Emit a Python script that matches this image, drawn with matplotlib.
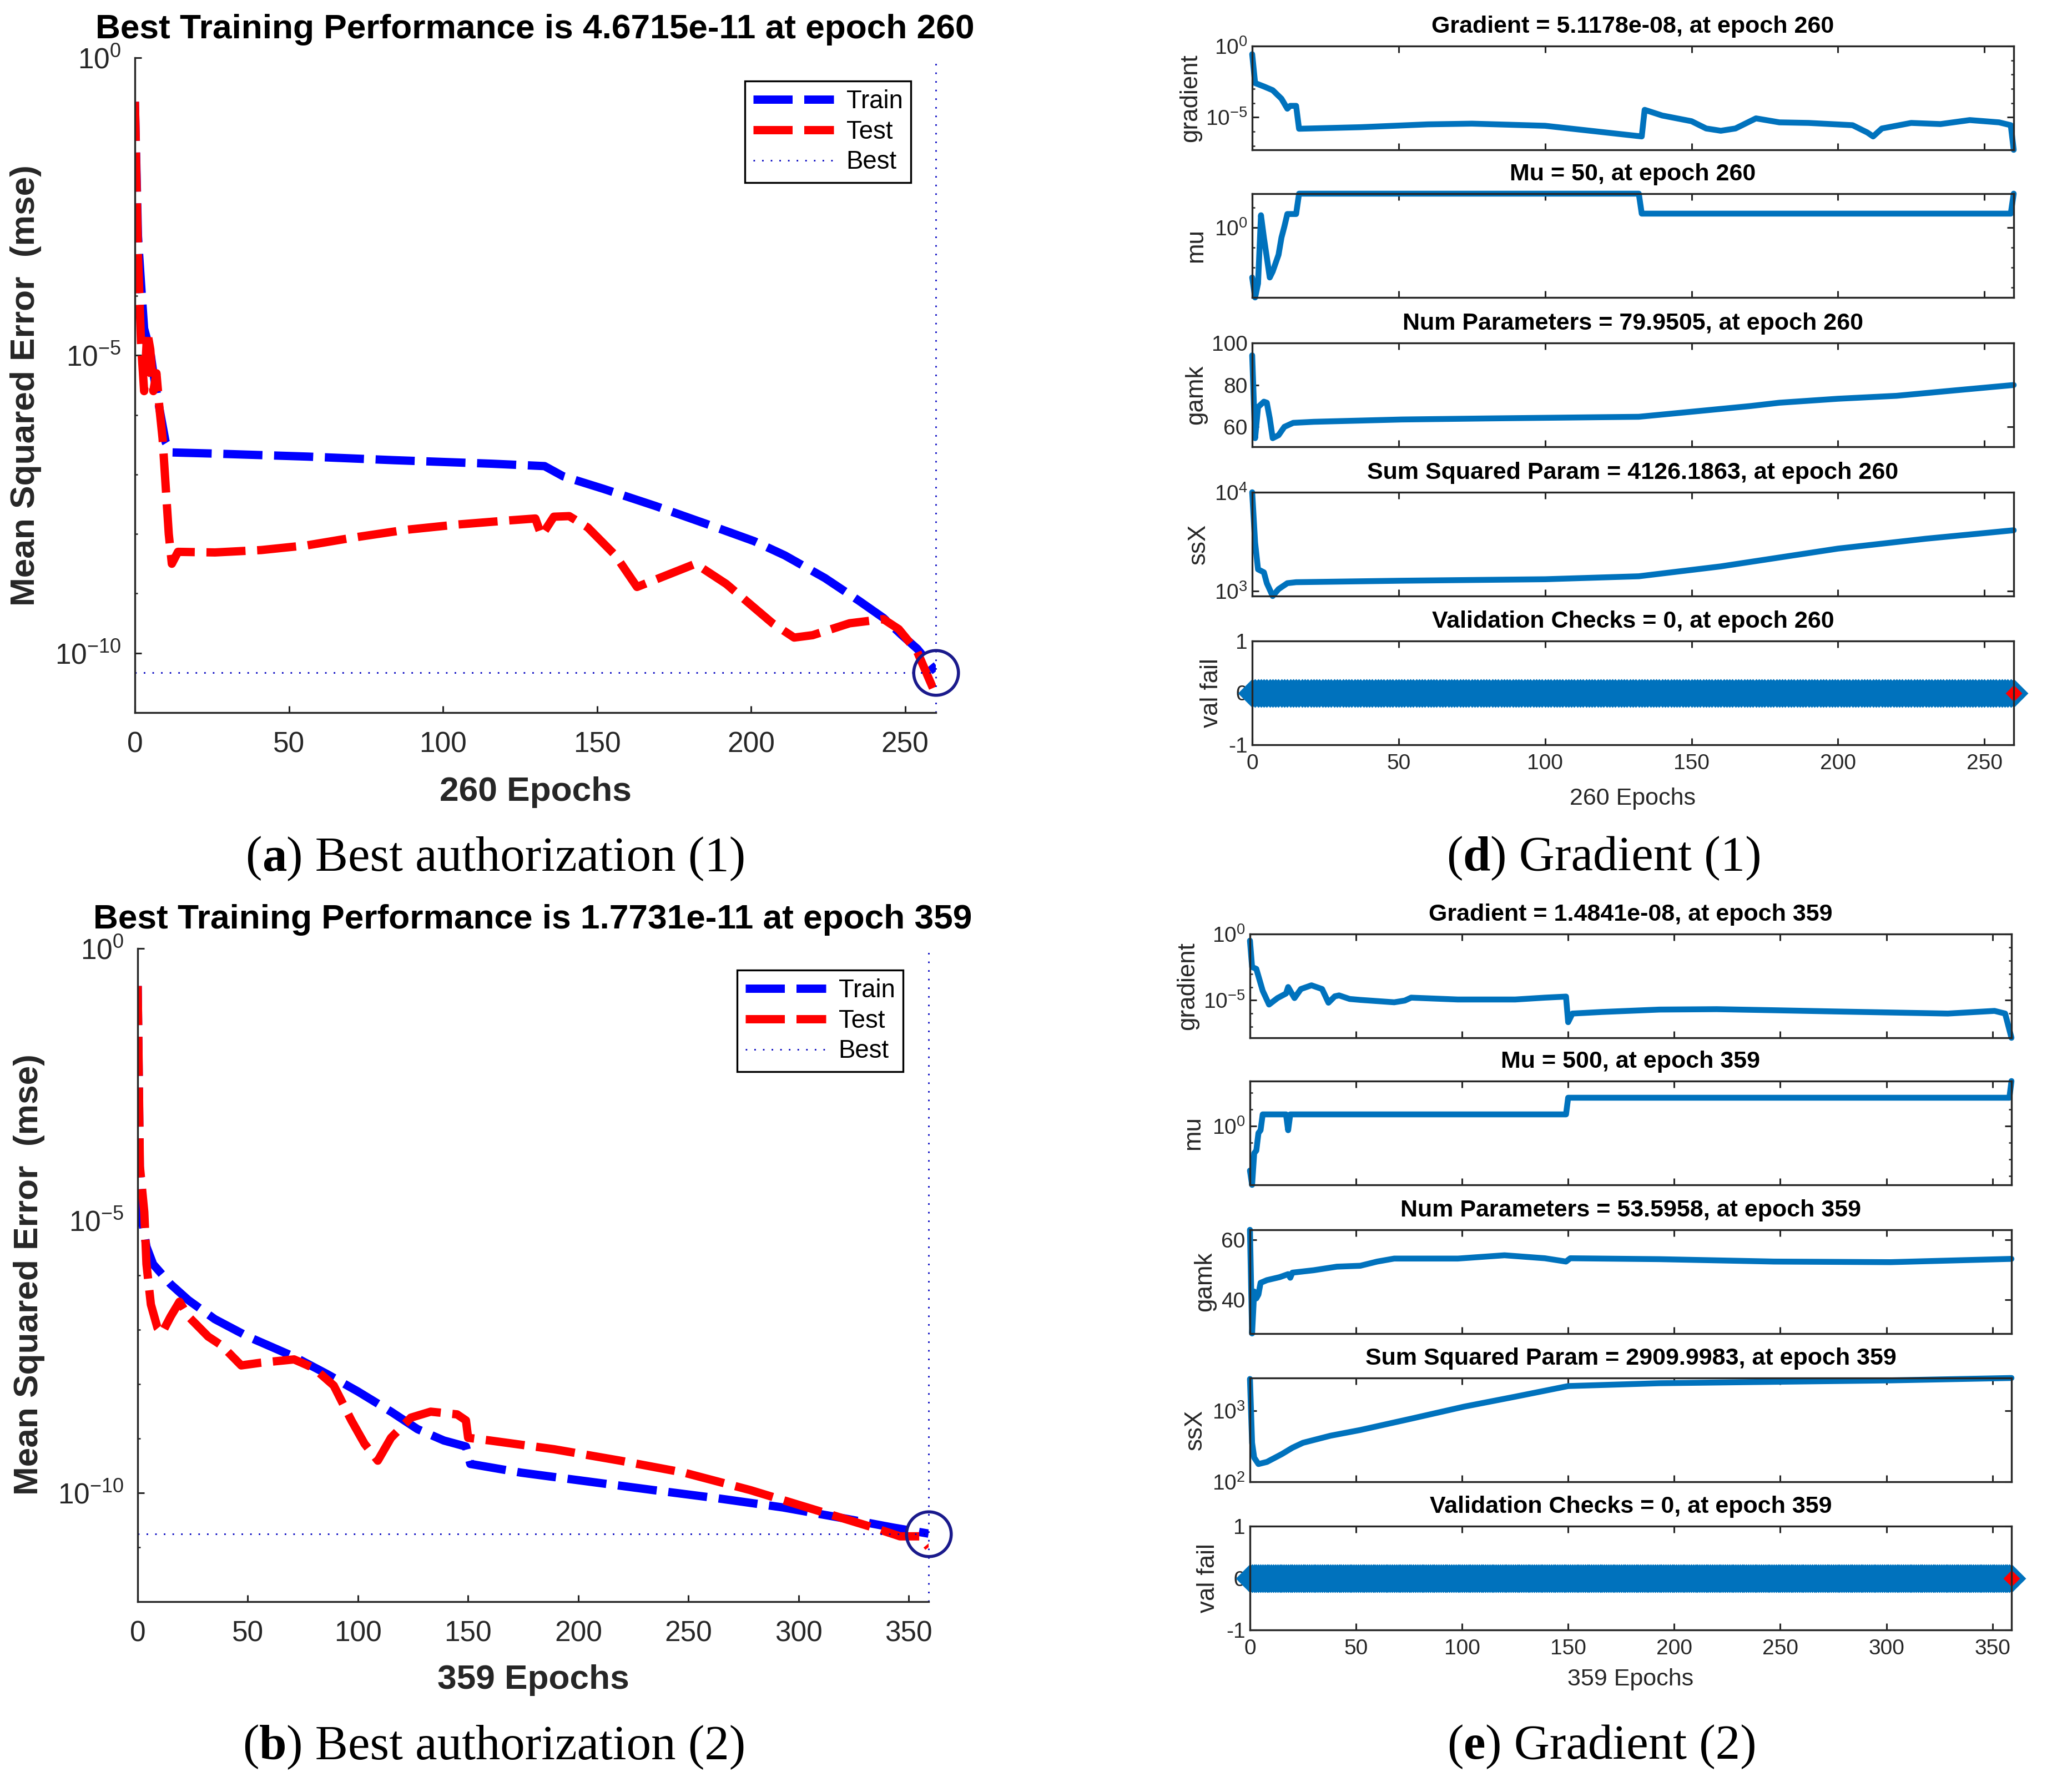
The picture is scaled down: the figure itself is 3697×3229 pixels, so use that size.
import matplotlib.pyplot as plt
import numpy as np
from matplotlib.ticker import NullFormatter

# ---------------------------------------------------------------------------
# values (log10 of the y value where the axis is log)
# ---------------------------------------------------------------------------
# (a) performance, run 1
train_a_epochs = [0, 1, 2, 3, 5, 6, 8, 10, 12, 26, 56, 84, 116, 133, 139, 152,
                  169, 186, 201, 211, 224, 235, 243, 249, 254, 260]
train_a_log = [-0.74, -3.0, -3.8, -4.55, -4.93, -5.3, -5.9, -6.46, -6.63, -6.65,
               -6.7, -6.76, -6.82, -6.86, -7.03, -7.24, -7.53, -7.84, -8.12,
               -8.36, -8.74, -9.12, -9.41, -9.7, -9.93, -10.31]
test_a_epochs = [0, 1, 2, 3, 4, 5, 6, 7, 8, 9, 10, 11, 12, 14, 26, 41, 56, 71, 88,
                 105, 122, 130, 132, 136, 141, 147, 156, 163, 182, 192, 207, 214,
                 220, 232, 243, 248, 254, 260]
test_a_log = [-0.74, -3.3, -4.8, -5.6, -4.6, -4.9, -5.6, -5.3, -5.9, -6.4, -7.2,
              -8.0, -8.5, -8.3, -8.31, -8.27, -8.19, -8.06, -7.93, -7.84, -7.77,
              -7.74, -8.03, -7.71, -7.70, -7.89, -8.36, -8.89, -8.5, -8.84, -9.5,
              -9.74, -9.7, -9.5, -9.43, -9.6, -9.98, -10.7]
best_a = 4.6715e-11

# (b) performance, run 2
train_b_epochs = [0, 1, 2, 4, 7, 15, 23, 35, 50, 71, 86, 100, 115, 127, 139, 149,
                  151, 174, 204, 234, 263, 293, 322, 343, 359]
train_b_log = [-0.69, -4.2, -5.0, -5.48, -5.8, -6.17, -6.46, -6.81, -7.13, -7.5,
               -7.82, -8.14, -8.51, -8.83, -9.04, -9.15, -9.47, -9.63, -9.79,
               -9.95, -10.1, -10.27, -10.48, -10.64, -10.75]
test_b_epochs = [0, 1, 3, 4, 6, 9, 11, 15, 19, 23, 32, 38, 47, 56, 71, 80, 89, 97,
                 103, 109, 115, 124, 133, 145, 149, 150, 160, 189, 219, 248, 278,
                 308, 334, 346, 355, 359]
test_b_log = [-0.69, -4.0, -4.84, -5.8, -6.54, -6.97, -7.07, -6.76, -6.49, -6.76,
              -7.13, -7.29, -7.66, -7.61, -7.55, -7.71, -8.03, -8.67, -9.1, -9.41,
              -8.99, -8.62, -8.51, -8.56, -8.67, -8.99, -9.04, -9.2, -9.41, -9.63,
              -9.95, -10.32, -10.64, -10.8, -10.8, -11.0]
best_b = 1.7731e-11

# (d) training state, run 1
grad_d_epochs = [0, 1, 4, 7, 10, 12, 13, 15, 16, 37, 60, 75, 100, 133, 134, 140,
                 150, 155, 160, 165, 172, 180, 190, 205, 210, 212, 215, 225, 235,
                 245, 255, 259, 260]
grad_d_log = [-0.57, -2.6, -2.84, -3.1, -3.7, -4.4, -4.2, -4.2, -5.81, -5.7, -5.5,
              -5.45, -5.6, -6.35, -4.48, -4.88, -5.28, -5.79, -5.95, -5.79, -5.08,
              -5.36, -5.4, -5.56, -6.07, -6.35, -5.79, -5.4, -5.48, -5.2, -5.36,
              -5.56, -7.29]
mu_d_epochs = [0, 1, 2, 3, 4, 5, 6, 7, 9, 10, 11, 12, 15, 16, 132, 133, 259, 260]
mu_d_log = [-2.5, -3.5, -2.8, 0.62, -0.5, -1.5, -2.5, -2.2, -1.36, -0.5, 0.06,
            0.68, 0.68, 1.7, 1.7, 0.7, 0.7, 1.7]
gamk_d_epochs = [0, 1, 2, 4, 5, 6, 7, 9, 11, 14, 21, 51, 80, 132, 150, 170, 180,
                 200, 220, 240, 260]
gamk_d = [94.1, 54.6, 69.4, 72.0, 71.5, 64.0, 54.6, 56.0, 60.0, 61.9, 62.4, 63.5,
          64.0, 64.8, 67.2, 69.9, 71.5, 73.4, 74.8, 77.4, 79.95]
ssx_d_epochs = [0, 1, 2, 4, 5, 7, 9, 12, 15, 51, 100, 132, 160, 200, 230, 260]
ssx_d_log = [4.0, 3.49, 3.22, 3.19, 3.08, 2.95, 3.02, 3.08, 3.09, 3.105, 3.12,
             3.15, 3.25, 3.43, 3.53, 3.6156]
valfail_d = [0] * 261

# (e) training state, run 2
grad_e_epochs = [0, 1, 3, 6, 9, 13, 17, 18, 20, 21, 24, 29, 34, 37, 40, 42, 47,
                 52, 68, 73, 76, 98, 125, 139, 149, 150, 152, 166, 193, 220, 247,
                 275, 302, 329, 351, 356, 359]
grad_e_log = [-0.5, -2.49, -2.63, -4.28, -5.32, -4.83, -4.49, -4.0, -4.56, -4.83,
              -4.15, -3.87, -4.15, -5.18, -4.7, -4.63, -4.9, -4.97, -5.15, -5.02,
              -4.8, -4.94, -4.94, -4.8, -4.72, -6.65, -6.0, -5.88, -5.7, -5.67,
              -5.75, -5.84, -5.92, -6.0, -5.8, -6.0, -7.83]
mu_e_epochs = [0, 1, 2, 3, 4, 5, 6, 17, 18, 19, 149, 150, 358, 359]
mu_e_log = [-2.67, -3.53, -1.63, -1.47, -0.42, -0.25, 0.7, 0.7, -0.25, 0.7, 0.7,
            1.7, 1.7, 2.7]
gamk_e_epochs = [0, 1, 2, 3, 4, 5, 8, 14, 18, 19, 20, 30, 41, 52, 60, 68, 98, 120,
                 139, 149, 151, 193, 247, 302, 359]
gamk_e = [63.3, 28.7, 42.7, 40.4, 41.7, 45.6, 46.5, 47.5, 48.5, 47.3, 49.0, 49.8,
          51.0, 51.3, 52.7, 53.7, 53.7, 54.8, 53.8, 52.7, 53.8, 53.5, 52.7, 52.5,
          53.6]
ssx_e_epochs = [0, 1, 2, 4, 8, 15, 20, 25, 38, 52, 76, 101, 125, 150, 193, 247,
                302, 359]
ssx_e_log = [3.45, 2.55, 2.34, 2.25, 2.28, 2.39, 2.48, 2.55, 2.65, 2.73, 2.89,
             3.06, 3.2, 3.35, 3.39, 3.41, 3.43, 3.464]
valfail_e = [0] * 360

titles_d = ["Gradient = 5.1178e-08, at epoch 260", "Mu = 50, at epoch 260",
            "Num Parameters = 79.9505, at epoch 260",
            "Sum Squared Param = 4126.1863, at epoch 260",
            "Validation Checks = 0, at epoch 260"]
titles_e = ["Gradient = 1.4841e-08, at epoch 359", "Mu = 500, at epoch 359",
            "Num Parameters = 53.5958, at epoch 359",
            "Sum Squared Param = 2909.9983, at epoch 359",
            "Validation Checks = 0, at epoch 359"]
state_ylabels = ["gradient", "mu", "gamk", "ssX", "val fail"]

# ---------------------------------------------------------------------------
W, H, DPI = 3698, 3229, 200
plt.rcParams["font.family"] = ["Liberation Sans", "DejaVu Sans"]
plt.rcParams["axes.unicode_minus"] = False
plt.rcParams["mathtext.default"] = "regular"

INK = "#262626"
MATLAB_BLUE = "#0072bd"
BEST_C = "#0000c0"

fig = plt.figure(figsize=(W / DPI, H / DPI), dpi=DPI, facecolor="white")


def px_rect(left, top, right, bottom):
    return [left / W, 1 - bottom / H, (right - left) / W, (bottom - top) / H]


def put(x, y, s, **kw):
    kw.setdefault("ha", "center")
    kw.setdefault("va", "center")
    return fig.text(x / W, 1 - y / H, s, **kw)


def pow_labels(exps):
    return [r"$\mathdefault{10^{%d}}$" % e for e in exps]


def caption(xc, y, letter, rest):
    r = fig.canvas.get_renderer()
    parts = [("(", "normal"), (letter, "bold"), (") " + rest, "normal")]
    texts = [put(0, y, s, ha="left", fontsize=32, family="Liberation Serif",
                 fontweight=w, color="black") for s, w in parts]
    widths = [t.get_window_extent(r).width for t in texts]
    x = xc - sum(widths) / 2
    for t, w in zip(texts, widths):
        t.set_x(x / W)
        x += w


def perf_panel(box, n_epochs, tr, te, best, ylo, xticks, legend_corner):
    ax = fig.add_axes(px_rect(*box))
    ax.set_yscale("log")
    dash = (0, (4.7, 1.4))
    dots = (0, (1, 4.6))
    ax.plot(tr[0], 10.0 ** np.asarray(tr[1]), color="#0000ff", lw=5.4, ls=dash,
            label="Train", dash_joinstyle="round")
    ax.plot(te[0], 10.0 ** np.asarray(te[1]), color="#ff0000", lw=5.4, ls=dash,
            label="Test", dash_joinstyle="round")
    ax.plot([0, n_epochs], [best, best], color=BEST_C, lw=1.0, ls=dots,
            label="Best", clip_on=False)
    ax.plot([n_epochs, n_epochs], [10.0 ** ylo, 1.0], color=BEST_C, lw=1.0,
            ls=dots, clip_on=False)
    ax.plot([n_epochs], [best], "o", ms=29, mfc="none", mec="#1a1a8c", mew=2.0,
            clip_on=False)
    ax.set_xlim(0, n_epochs)
    ax.set_ylim(10.0 ** ylo, 1.0)
    ax.set_xticks(xticks)
    ax.set_yticks([1.0, 1e-5, 1e-10], pow_labels([0, -5, -10]))
    ax.set_yticks([10.0 ** e for e in range(ylo, 1)], minor=True)
    ax.yaxis.set_minor_formatter(NullFormatter())
    for s in ("top", "right"):
        ax.spines[s].set_visible(False)
    for s in ("left", "bottom"):
        ax.spines[s].set_linewidth(1.2)
        ax.spines[s].set_color(INK)
    ax.tick_params(which="both", direction="in", colors=INK, labelsize=18.5)
    ax.tick_params(which="major", length=4.3, width=1.1)
    ax.tick_params(which="minor", length=1.8, width=0.9)
    ax.tick_params(axis="x", pad=12)
    ax.tick_params(axis="y", pad=9)
    leg = ax.legend(loc="upper right",
                    bbox_to_anchor=(legend_corner[0] / W, 1 - legend_corner[1] / H),
                    bbox_transform=fig.transFigure, borderaxespad=0,
                    fontsize=16.4, handlelength=3.18, handletextpad=0.5,
                    borderpad=0.32, labelspacing=0.24, fancybox=False,
                    framealpha=1, edgecolor="black")
    leg.get_frame().set_linewidth(1.2)
    return ax


def state_panel(box, n_epochs, xs, ys, ylim, yticks, ylabels, minor, log, bottom):
    ax = fig.add_axes(px_rect(*box))
    if log:
        ax.set_yscale("log")
    ax.plot(xs, ys, color=MATLAB_BLUE, lw=3.8, clip_on=False,
            solid_joinstyle="round", solid_capstyle="round")
    ax.set_xlim(0, n_epochs)
    ax.set_ylim(*ylim)
    ax.set_xticks(range(0, n_epochs, 50))
    ax.set_yticks(yticks, ylabels)
    ax.set_yticks(minor, minor=True)
    ax.yaxis.set_minor_formatter(NullFormatter())
    for s in ax.spines.values():
        s.set_linewidth(1.2)
        s.set_color(INK)
        s.set_zorder(3)
    ax.tick_params(which="both", direction="in", top=True, right=True,
                   colors=INK, labelsize=14)
    ax.tick_params(which="major", length=4.3, width=1.1)
    ax.tick_params(which="minor", length=1.8, width=0.9)
    ax.tick_params(axis="x", pad=5.8, labelbottom=bottom)
    ax.tick_params(axis="y", pad=3)
    return ax


# ----- (a) and (b): performance ---------------------------------------------
perf_panel((243, 104, 1686, 1284), 260, (train_a_epochs, train_a_log),
           (test_a_epochs, test_a_log), best_a, -11, range(0, 260, 50),
           (1641, 146))
put(964, 53, "Best Training Performance is 4.6715e-11 at epoch 260",
    fontsize=22.4, fontweight="bold", color="black")
put(47, 695, "Mean Squared Error  (mse)", rotation=90, fontsize=22.4,
    fontweight="bold", color=INK)
put(965, 1427, "260 Epochs", fontsize=22.4, fontweight="bold", color=INK)
caption(893, 1547, "a", "Best authorization (1)")

perf_panel((248, 1709, 1673, 2886), 359, (train_b_epochs, train_b_log),
           (test_b_epochs, test_b_log), best_b, -12, range(0, 359, 50),
           (1627, 1748))
put(960, 1657, "Best Training Performance is 1.7731e-11 at epoch 359",
    fontsize=22.4, fontweight="bold", color="black")
put(53, 2297, "Mean Squared Error  (mse)", rotation=90, fontsize=22.4,
    fontweight="bold", color=INK)
put(961, 3028, "359 Epochs", fontsize=22.4, fontweight="bold", color=INK)
caption(890, 3148, "b", "Best authorization (2)")


# ----- (d) and (e): training state ------------------------------------------
def state_column(left, right, tops, height, n_epochs, series, titles, label_x,
                 xlabel_y, cap_y, letter, cap_text):
    for i, (xs, ys, ylim, yt, yl, mn, log) in enumerate(series):
        top = tops[i]
        ax = state_panel((left, top, right, top + height), n_epochs, xs, ys, ylim,
                         yt, yl, mn, log, bottom=(i == len(series) - 1))
        put((left + right) / 2, top - 35, titles[i], fontsize=15.5,
            fontweight="bold", color="black")
        put(label_x[i], top + height / 2, state_ylabels[i], rotation=90,
            fontsize=15.8, color=INK)
        if i == len(series) - 1:
            ax.plot(xs, ys, "D", ms=12, mfc=MATLAB_BLUE, mec=MATLAB_BLUE,
                    mew=1.0, clip_on=False)
            ax.plot([xs[-1]], [ys[-1]], "D", ms=6.5, color="#ff0000",
                    clip_on=False)
    put((left + right) / 2, xlabel_y, "%d Epochs" % n_epochs, fontsize=15.5,
        color=INK)
    caption((left + right) / 2 - 52, cap_y, letter, cap_text)


series_d = [
    (grad_d_epochs, 10.0 ** np.asarray(grad_d_log), (5.1178e-8, 1.0), [1.0, 1e-5],
     pow_labels([0, -5]), [10.0 ** e for e in range(-7, 0)], True),
    (mu_d_epochs, 10.0 ** np.asarray(mu_d_log), (10.0 ** -3.5, 50.0), [1.0],
     pow_labels([0]), [10.0 ** e for e in range(-3, 2)], True),
    (gamk_d_epochs, gamk_d, (50.5, 100.0), [60, 80, 100], ["60", "80", "100"], [],
     False),
    (ssx_d_epochs, 10.0 ** np.asarray(ssx_d_log), (10.0 ** 2.95, 1.0e4),
     [1e3, 1e4], pow_labels([3, 4]), [], True),
    (range(len(valfail_d)), valfail_d, (-1, 1), [-1, 0, 1], ["-1", "0", "1"], [],
     False),
]
state_column(2256, 3628, [83, 349, 618, 887, 1155], 187, 260, series_d, titles_d,
             [2145, 2155, 2155, 2159, 2182], 1439, 1547, "d", "Gradient (1)")

series_e = [
    (grad_e_epochs, 10.0 ** np.asarray(grad_e_log), (1.4841e-8, 1.0), [1.0, 1e-5],
     pow_labels([0, -5]), [10.0 ** e for e in range(-7, 0)], True),
    (mu_e_epochs, 10.0 ** np.asarray(mu_e_log), (10.0 ** -3.53, 500.0), [1.0],
     pow_labels([0]), [10.0 ** e for e in range(-3, 3)], True),
    (gamk_e_epochs, gamk_e, (28.65, 63.3), [40, 60], ["40", "60"], [], False),
    (ssx_e_epochs, 10.0 ** np.asarray(ssx_e_log), (100.0, 2910.0), [1e2, 1e3],
     pow_labels([2, 3]), [], True),
    (range(len(valfail_e)), valfail_e, (-1, 1), [-1, 0, 1], ["-1", "0", "1"], [],
     False),
]
state_column(2252, 3624, [1683, 1948, 2216, 2483, 2750], 187, 359, series_e,
             titles_e, [2140, 2150, 2171, 2153, 2177], 3026, 3148, "e",
             "Gradient (2)")

fig.savefig("out.png", dpi=DPI, facecolor="white")
